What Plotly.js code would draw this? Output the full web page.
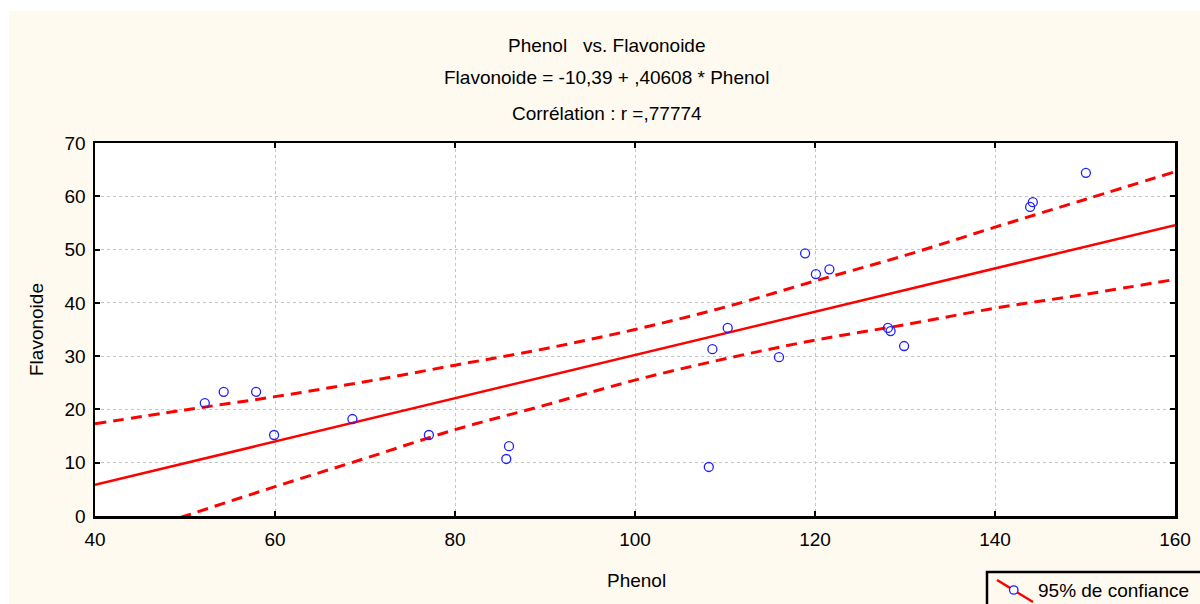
<!DOCTYPE html>
<html><head><meta charset="utf-8">
<script src="https://cdn.plot.ly/plotly-3.0.1.min.js"></script>
<style>html,body{margin:0;padding:0;background:#fff;width:1200px;height:604px;overflow:hidden}
#chart{position:absolute;left:9px;top:11px;width:1191px;height:593px}</style>
</head><body><div id="chart"></div>
<script>
// Observed data (Phenol, Flavonoide)
const phenol = [52.2, 54.3, 57.9, 59.9, 68.6, 77.1, 85.7, 86.0, 108.2, 108.6, 110.3, 116.0, 118.9, 120.1, 121.6, 128.1, 128.4, 129.9, 143.9, 144.2, 150.1];
const flavonoide = [21.2, 23.3, 23.3, 15.2, 18.2, 15.2, 10.7, 13.1, 9.2, 31.3, 35.3, 29.8, 49.3, 45.4, 46.3, 35.3, 34.7, 31.9, 58.0, 58.9, 64.4];
// Regression from the chart's subtitle
const intercept = -10.39;
const slope = 0.40608;
const xRange = [40, 160];
// 95% confidence band
const bandX = [40, 50, 60, 70, 80, 90, 100, 110, 120, 130, 140, 150, 160];
const bandUpper = [17.3, 19.9, 22.4, 25.2, 28.3, 31.4, 35.0, 39.2, 44.1, 48.9, 54.2, 59.4, 64.6];
const bandLower = [-5.6, 0.0, 5.5, 10.8, 16.2, 20.8, 25.5, 29.5, 33.0, 35.9, 39.0, 41.6, 44.4];
const xTicks = [40, 60, 80, 100, 120, 140, 160];
const yTicks = [0, 10, 20, 30, 40, 50, 60, 70];
const titleLines = ["Phenol&nbsp;&nbsp;&nbsp;vs. Flavonoide", "Flavonoide = -10,39 + ,40608 * Phenol", "Corrélation : r =,77774"];
const legendText = "95% de confiance";

const red = '#FF0000', blue = '#2020FF';
const fit = xRange.map(x => intercept + slope * x);
const traces = [
  {x: bandX, y: bandUpper, mode: 'lines', line: {color: red, width: 3, dash: '11px,7px', shape: 'spline'}, hoverinfo: 'skip'},
  {x: bandX, y: bandLower, mode: 'lines', line: {color: red, width: 3, dash: '11px,7px', shape: 'spline'}, hoverinfo: 'skip'},
  {x: xRange, y: fit, mode: 'lines', line: {color: red, width: 2.5}},
  {x: phenol, y: flavonoide, mode: 'markers', marker: {symbol: 'circle-open', size: 9, color: blue, line: {width: 1.3, color: blue}}}
];
const F = {family: 'Liberation Sans, Arial, sans-serif', size: 19, color: '#000'};
const axisCommon = {showline: true, linecolor: '#000', linewidth: 2.5, mirror: 'ticks', ticks: 'inside', ticklen: 5, tickwidth: 2, tickcolor: '#000',
  showgrid: true, gridcolor: '#C4C4C4', gridwidth: 1, griddash: '3px,3px', zeroline: false, tickfont: F, fixedrange: true};
const titleY = [1.2627, 1.1743, 1.0804];
const annotations = titleLines.map((t, i) => ({text: t, xref: 'paper', yref: 'paper', x: 0.474, y: titleY[i], xanchor: 'center', yanchor: 'middle', showarrow: false, font: F}));
annotations.push({text: 'Phenol', xref: 'paper', yref: 'paper', x: 0.501, y: -0.174, xanchor: 'center', yanchor: 'middle', showarrow: false, font: F});
annotations.push({text: 'Flavonoide', xref: 'paper', yref: 'paper', x: -0.0537, y: 0.4987, xanchor: 'center', yanchor: 'middle', textangle: -90, showarrow: false, font: F});
annotations.push({text: legendText, xref: 'paper', yref: 'paper', x: (1027 - 86) / 1080, y: (505 - 579) / 373, xanchor: 'left', yanchor: 'middle', showarrow: false, font: F});
const px = v => (v - 86) / 1080, py = v => (505 - v) / 373;
const shapes = [
  {type: 'rect', xref: 'paper', yref: 'paper', x0: px(978), x1: px(1210), y0: py(561), y1: py(605), line: {color: '#000', width: 2.5}, fillcolor: 'rgba(0,0,0,0)'},
  {type: 'line', xref: 'paper', yref: 'paper', x0: px(988), y0: py(569), x1: px(1024), y1: py(591), line: {color: red, width: 2.5}},
  {type: 'circle', xref: 'paper', yref: 'paper', x0: px(1000.5), x1: px(1009), y0: py(574.8), y1: py(583.2), line: {color: blue, width: 1.3}, fillcolor: '#fff'}
];
const layout = {
  width: 1191, height: 593, paper_bgcolor: '#FEFAEF', plot_bgcolor: '#FFFFFF',
  margin: {l: 86, r: 25, t: 132, b: 88}, showlegend: false,
  xaxis: Object.assign({}, axisCommon, {range: xRange, tickvals: xTicks, ticklabelstandoff: 5}),
  yaxis: Object.assign({}, axisCommon, {range: [0, 70], tickvals: yTicks, ticklabelstandoff: 3}),
  annotations: annotations, shapes: shapes, font: F
};
Plotly.newPlot('chart', traces, layout, {displayModeBar: false, staticPlot: true});
</script></body></html>
